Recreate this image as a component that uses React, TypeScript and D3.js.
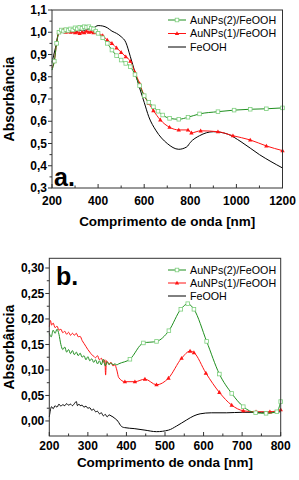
import React from "react";
import * as d3 from "d3";

// ---------- Panel a data (wavelength nm, absorbance) ----------
const aGreenNm = [200, 210, 220, 230, 240, 250, 260, 270, 280, 290, 300, 310, 320, 330, 340, 350, 360, 370, 380, 390, 400, 420, 440, 460, 480, 500, 520, 540, 560, 580, 600, 620, 640, 660, 680, 710, 750, 790, 840, 920, 990, 1060, 1130, 1200];
const aGreenVal = [0.83, 0.87, 0.95, 1.0, 1.01, 1.005, 1.012, 1.008, 1.015, 1.01, 1.02, 1.015, 1.022, 1.018, 1.025, 1.022, 1.025, 1.018, 1.015, 1.005, 0.995, 0.975, 0.95, 0.92, 0.895, 0.875, 0.86, 0.845, 0.81, 0.76, 0.715, 0.685, 0.665, 0.645, 0.628, 0.613, 0.609, 0.618, 0.633, 0.643, 0.65, 0.654, 0.656, 0.66];

const aRedNm = [200, 210, 220, 230, 240, 250, 260, 270, 280, 290, 300, 310, 320, 330, 340, 350, 360, 370, 380, 390, 400, 420, 440, 460, 480, 500, 520, 540, 560, 580, 600, 620, 640, 670, 710, 750, 790, 805, 845, 920, 985, 1060, 1130, 1200];
const aRedVal = [0.84, 0.87, 0.95, 1.0, 1.005, 1.01, 1.0, 1.005, 1.0, 1.003, 0.998, 1.0, 0.995, 1.0, 0.998, 1.005, 1.0, 1.003, 0.998, 1.0, 0.995, 0.985, 0.965, 0.95, 0.93, 0.91, 0.89, 0.87, 0.82, 0.77, 0.715, 0.68, 0.648, 0.606, 0.573, 0.561, 0.561, 0.548, 0.557, 0.553, 0.535, 0.516, 0.489, 0.468];

const aBlackNm = [200, 215, 230, 240, 250, 260, 270, 280, 290, 300, 310, 320, 330, 340, 350, 360, 380, 400, 420, 440, 460, 480, 500, 520, 540, 560, 580, 600, 620, 650, 700, 750, 785, 800, 840, 900, 960, 1020, 1100, 1200];
const aBlackVal = [0.865, 0.93, 1.0, 1.005, 0.998, 1.005, 1.0, 1.01, 1.003, 1.008, 1.002, 1.01, 1.005, 1.008, 1.012, 1.015, 1.02, 1.03, 1.028, 1.02, 1.005, 0.995, 0.98, 0.955, 0.89, 0.82, 0.75, 0.685, 0.62, 0.56, 0.5, 0.474, 0.485, 0.505, 0.535, 0.553, 0.543, 0.508, 0.45, 0.39];

// ---------- Panel b data ----------
const bGreenNoisyNm = [200, 205, 210, 215, 220, 225, 230, 235, 240, 245, 250, 255, 260, 265, 270, 275, 280, 285, 290, 295, 300, 305, 310, 315, 320, 325, 330, 335, 340, 345, 350, 355, 360, 365, 370, 375];
const bGreenNoisyVal = [0.172, 0.165, 0.178, 0.172, 0.18, 0.17, 0.15, 0.14, 0.145, 0.135, 0.14, 0.132, 0.138, 0.13, 0.135, 0.128, 0.133, 0.125, 0.128, 0.12, 0.126, 0.118, 0.122, 0.115, 0.12, 0.112, 0.118, 0.11, 0.121, 0.108, 0.116, 0.11, 0.114, 0.11, 0.112, 0.11];
const bGreenNm = [380, 409, 444, 478, 510, 541, 559, 575, 608, 641, 673, 703, 735, 762, 790, 800];
const bGreenVal = [0.112, 0.121, 0.153, 0.156, 0.177, 0.219, 0.23, 0.219, 0.156, 0.092, 0.054, 0.028, 0.016, 0.015, 0.018, 0.038];

const bRedNoisyNm = [200, 203, 206, 210, 215, 220, 225, 230, 235, 240, 245, 250, 255, 260, 265, 270, 275, 280, 285, 290, 295, 300, 305, 310, 315, 320, 325, 330, 335, 340, 344, 346, 348, 355, 360, 365, 370, 375, 380];
const bRedNoisyVal = [0.185, 0.197, 0.188, 0.192, 0.183, 0.186, 0.178, 0.18, 0.173, 0.176, 0.17, 0.174, 0.168, 0.172, 0.168, 0.172, 0.165, 0.166, 0.158, 0.152, 0.146, 0.14, 0.135, 0.13, 0.127, 0.124, 0.128, 0.12, 0.123, 0.115, 0.12, 0.09, 0.118, 0.112, 0.115, 0.108, 0.11, 0.1, 0.085];
const bRedNm = [396, 422, 448, 478, 509, 543, 565, 575, 606, 641, 673, 703, 736, 772, 800];
const bRedVal = [0.077, 0.077, 0.082, 0.071, 0.084, 0.123, 0.137, 0.134, 0.094, 0.056, 0.031, 0.02, 0.018, 0.018, 0.022];

const bBlackNm = [200, 203, 206, 210, 215, 220, 225, 230, 235, 240, 245, 250, 255, 260, 265, 270, 273, 277, 280, 285, 290, 295, 300, 305, 310, 315, 320, 325, 330, 335, 340, 345, 350, 355, 360, 365, 370, 375, 380, 385, 390, 395, 420, 448, 478, 509, 530, 556, 575, 591, 620, 660, 700, 750, 800];
const bBlackVal = [0.008, 0.022, 0.028, 0.024, 0.03, 0.027, 0.033, 0.029, 0.032, 0.03, 0.034, 0.031, 0.033, 0.03, 0.034, 0.038, 0.03, 0.033, 0.03, 0.031, 0.027, 0.029, 0.025, 0.026, 0.021, 0.023, 0.018, 0.019, 0.014, 0.016, 0.01, 0.013, 0.008, 0.012, 0.01, 0.008, 0.005, 0.002, -0.003, -0.009, -0.012, -0.013, -0.015, -0.018, -0.021, -0.018, -0.01, 0.002, 0.01, 0.014, 0.016, 0.016, 0.017, 0.017, 0.018];

// ---------- Ticks / labels ----------
const aXTicks = [200, 400, 600, 800, 1000, 1200];
const aYTicks = [0.3, 0.4, 0.5, 0.6, 0.7, 0.8, 0.9, 1.0, 1.1];
const bXTicks = [200, 300, 400, 500, 600, 700, 800];
const bYTicks = [0.0, 0.05, 0.1, 0.15, 0.2, 0.25, 0.3];
const legendNames = ["AuNPs(2)/FeOOH", "AuNPs(1)/FeOOH", "FeOOH"];
const xTitle = "Comprimento de onda [nm]";
const yTitle = "Absorbância";

const GREEN = "#1f8f1f";
const GREEN_MK = "#7ccf7c";
const RED = "#ff1414";
const BLACK = "#000000";
const FONT = "'Liberation Sans', Arial, sans-serif";

type Pt = [number, number];
const zip = (a: number[], b: number[]): Pt[] => a.map((v, i) => [v, b[i]]);

function Square({ x, y }: { x: number; y: number }) {
  return <rect x={x - 1.8} y={y - 1.8} width={3.6} height={3.6} fill="white" stroke={GREEN_MK} strokeWidth={0.8} />;
}
function Tri({ x, y }: { x: number; y: number }) {
  return <path d={`M${x},${y - 2.3}L${x + 2.2},${y + 1.6}L${x - 2.2},${y + 1.6}Z`} fill={RED} />;
}

interface PanelProps {
  left: number; right: number; top: number; bottom: number;
  xDom: [number, number]; yDom: [number, number];
  xTicks: number[]; xMinorStep: number; yTicks: number[]; yMinorStep: number; yDigits: number;
  green: Pt[]; greenMk: Pt[]; red: Pt[]; redMk: Pt[]; black: Pt[];
  tag: string; tagX: number; tagY: number;
  xLabelY: number; xTitleY: number; legendY: number[];
}

function Panel(p: PanelProps) {
  const x = d3.scaleLinear().domain(p.xDom).range([p.left, p.right]);
  const y = d3.scaleLinear().domain(p.yDom).range([p.bottom, p.top]);
  const line = d3.line<Pt>().x(d => x(d[0])).y(d => y(d[1])).curve(d3.curveMonotoneX);
  const fmt = (v: number) => v.toFixed(p.yDigits).replace(".", ",");
  const xMinor = d3.range(p.xDom[0], p.xDom[1] + 0.001, p.xMinorStep);
  const yMinor = d3.range(p.yTicks[0], p.yTicks[p.yTicks.length - 1] + 1e-6, p.yMinorStep);
  const legX1 = 168, legX2 = 186, legTX = 190;
  return (
    <g>
      <path d={line(p.black) || ""} fill="none" stroke={BLACK} strokeWidth={1} />
      <path d={line(p.red) || ""} fill="none" stroke={RED} strokeWidth={1} />
      {p.redMk.map((d, i) => <Tri key={"r" + i} x={x(d[0])} y={y(d[1])} />)}
      <path d={line(p.green) || ""} fill="none" stroke={GREEN} strokeWidth={1} />
      {p.greenMk.map((d, i) => <Square key={"g" + i} x={x(d[0])} y={y(d[1])} />)}
      <rect x={p.left} y={p.top} width={p.right - p.left} height={p.bottom - p.top} fill="none" stroke="#333" strokeWidth={1} />
      {xMinor.map((t, i) => {
        const major = p.xTicks.includes(t);
        return <line key={"xm" + i} x1={x(t)} x2={x(t)} y1={p.bottom} y2={p.bottom - (major ? 4 : 2.5)} stroke="#333" />;
      })}
      {yMinor.map((t, i) => {
        const major = p.yTicks.some(v => Math.abs(v - t) < 1e-6);
        return <line key={"ym" + i} x1={p.left} x2={p.left - (major ? 4 : 2.5)} y1={y(t)} y2={y(t)} stroke="#333" />;
      })}
      {p.xTicks.map(t => (
        <text key={"xl" + t} x={x(t)} y={p.xLabelY} textAnchor="middle" fontFamily={FONT} fontWeight="bold" fontSize={12}>{t}</text>
      ))}
      {p.yTicks.map(t => (
        <text key={"yl" + t} x={p.left - 5} y={y(t) + 4.2} textAnchor="end" fontFamily={FONT} fontWeight="bold" fontSize={12}>{fmt(t)}</text>
      ))}
      <text x={(p.left + p.right) / 2} y={p.xTitleY} textAnchor="middle" fontFamily={FONT} fontWeight="bold" fontSize={13.5}>{xTitle}</text>
      <text transform={`translate(14,${(p.top + p.bottom) / 2}) rotate(-90)`} textAnchor="middle" fontFamily={FONT} fontWeight="bold" fontSize={14}>{yTitle}</text>
      <text x={p.tagX} y={p.tagY} fontFamily={FONT} fontWeight="bold" fontSize={25}>{p.tag}</text>
      {legendNames.map((n, i) => {
        const ly = p.legendY[i];
        const col = i === 0 ? GREEN : i === 1 ? RED : BLACK;
        const cx = (legX1 + legX2) / 2;
        return (
          <g key={"lg" + i}>
            <line x1={legX1} x2={legX2} y1={ly} y2={ly} stroke={col} strokeWidth={1} />
            {i === 0 && <Square x={cx} y={ly} />}
            {i === 1 && <Tri x={cx} y={ly} />}
            <text x={legTX} y={ly + 3.8} fontFamily={FONT} fontSize={10.7}>{n}</text>
          </g>
        );
      })}
    </g>
  );
}

export default function App() {
  const aGreen = zip(aGreenNm, aGreenVal);
  const aRed = zip(aRedNm, aRedVal);
  const aBlack = zip(aBlackNm, aBlackVal);
  const bGreenMk = zip(bGreenNm, bGreenVal);
  const bGreen = zip(bGreenNoisyNm, bGreenNoisyVal).concat(bGreenMk);
  const bRedMk = zip(bRedNm, bRedVal);
  const bRed = zip(bRedNoisyNm, bRedNoisyVal).concat(bRedMk);
  const bBlack = zip(bBlackNm, bBlackVal);
  return (
    <svg width={299} height={480} style={{ position: "absolute", left: 0, top: 0, background: "white" }}>
      <Panel left={52} right={282.5} top={10} bottom={188} xDom={[200, 1200]} yDom={[0.3, 1.1]}
        xTicks={aXTicks} xMinorStep={100} yTicks={aYTicks} yMinorStep={0.05} yDigits={1}
        green={aGreen} greenMk={aGreen.slice(1)} red={aRed} redMk={aRed.slice(1)} black={aBlack}
        tag="a." tagX={54} tagY={186} xLabelY={205} xTitleY={226} legendY={[20, 33.5, 47]} />
      <Panel left={49.3} right={280.7} top={258.3} bottom={436} xDom={[200, 800]} yDom={[-0.0295, 0.319]}
        xTicks={bXTicks} xMinorStep={50} yTicks={bYTicks} yMinorStep={0.025} yDigits={2}
        green={bGreen} greenMk={bGreenMk.slice(1)} red={bRed} redMk={bRedMk} black={bBlack}
        tag="b." tagX={56} tagY={285} xLabelY={450} xTitleY={467} legendY={[270, 283, 296]} />
    </svg>
  );
}
